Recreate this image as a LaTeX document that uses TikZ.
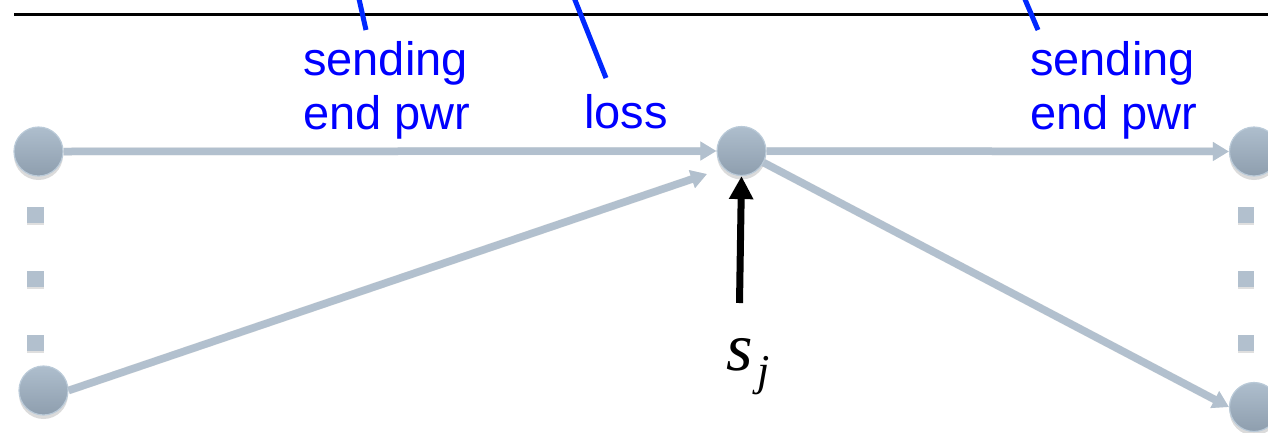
\documentclass[tikz,border=0pt]{standalone}
\usepackage{fontspec}
\setmainfont{Liberation Sans}
\newfontfamily\timesfont{Liberation Serif}
\usetikzlibrary{arrows.meta,shadows}
\definecolor{edgecol}{RGB}{178,192,206}
\definecolor{nodetop}{RGB}{174,190,205}
\definecolor{nodebot}{RGB}{142,158,174}
\definecolor{nodeborder}{RGB}{186,202,216}
\definecolor{lblblue}{RGB}{0,0,255}
\definecolor{leadblue}{RGB}{0,40,255}
\begin{document}
\begin{tikzpicture}[x=1pt,y=-1pt,
  bus/.style={circle,minimum size=49pt,inner sep=0pt,top color=nodetop,bottom color=nodebot,
    draw=nodeborder,line width=1.2pt,
    drop shadow={shadow xshift=0pt,shadow yshift=-4pt,opacity=0.2,fill=black!70}},
  dotsq/.style={rectangle,minimum size=16.5pt,inner sep=0pt,fill=edgecol,
    drop shadow={shadow xshift=0pt,shadow yshift=-2pt,opacity=0.18,fill=black!70}},
  flow/.style={draw=edgecol,line width=7.5pt,-{Triangle[length=16pt,width=18pt]}},
  flowshade/.style={draw=black,draw opacity=0.08,line width=8pt,yshift=-3pt,-{Triangle[length=16pt,width=18pt]}},
  lbl/.style={font=\fontsize{47}{54}\selectfont,text=lblblue,align=left,inner sep=0pt,anchor=north west},
  lead/.style={draw=leadblue,line width=5pt},
  inj/.style={draw=black,line width=7pt,-{Triangle[length=23pt,width=23pt]}}
]
\useasboundingbox (0,0) rectangle (1268,432);
\begin{scope}
\clip (0,0) rectangle (1268,432);
% top rule
\coordinate (ruleL) at (14,14.5);
\coordinate (ruleR) at (1270,14.5);
\draw[line width=2.6pt] (ruleL) -- (ruleR);

% buses
\node[bus] (l1) at (38.5,151.5) {};
\node[bus] (lb) at (43.5,390.5) {};
\node[bus] (mid) at (741.5,151) {};
\node[bus] (rt) at (1254,151.5) {};
\node[bus] (rb) at (1254,407) {};

% dots
\node[dotsq] (ld1) at (35.5,215) {};
\node[dotsq] (ld2) at (35.5,279) {};
\node[dotsq] (ld3) at (35.5,343) {};
\node[dotsq] (rd1) at (1246,215) {};
\node[dotsq] (rd2) at (1246,279) {};
\node[dotsq] (rd3) at (1246,343) {};

% flows
\coordinate (lbtip) at (707,174);
\path[flowshade] (l1.east) -- (mid.west);
\path[flowshade] (lb.east) -- (lbtip);
\path[flowshade] (mid.east) -- (rt.west);
\path[flowshade] (mid) -- (rb.west);
\draw[flow] (l1.east) -- (mid.west);
\draw[flow] (lb.east) -- (lbtip);
\draw[flow] (mid.east) -- (rt.west);
\draw[flow] (mid) -- (rb.west);

% injection arrow
\node[inner sep=0pt,anchor=base west] (sj) at (726,370)
  {{\timesfont\itshape\fontsize{68}{68}\selectfont s}\kern5pt\raisebox{-15pt}{\timesfont\itshape\fontsize{44}{44}\selectfont j}};
\coordinate (injfoot) at (739.5,303);
\draw[inj] (injfoot) -- (mid.south);

% labels
\node[lbl] (send1) at (303,41.5) {sending\\end pwr};
\node[lbl] (loss) at (584,94.5) {loss};
\node[lbl] (send2) at (1030,41.5) {sending\\end pwr};

% leader lines
\coordinate (a1) at (357,-10);
\coordinate (a2) at (366,30);
\coordinate (b1) at (571,-10);
\coordinate (b2) at (606,78);
\coordinate (c1) at (1021,-10);
\coordinate (c2) at (1038,30);
\draw[lead] (a1) -- (a2);
\draw[lead] (b1) -- (b2);
\draw[lead] (c1) -- (c2);
\end{scope}
\end{tikzpicture}
\end{document}
